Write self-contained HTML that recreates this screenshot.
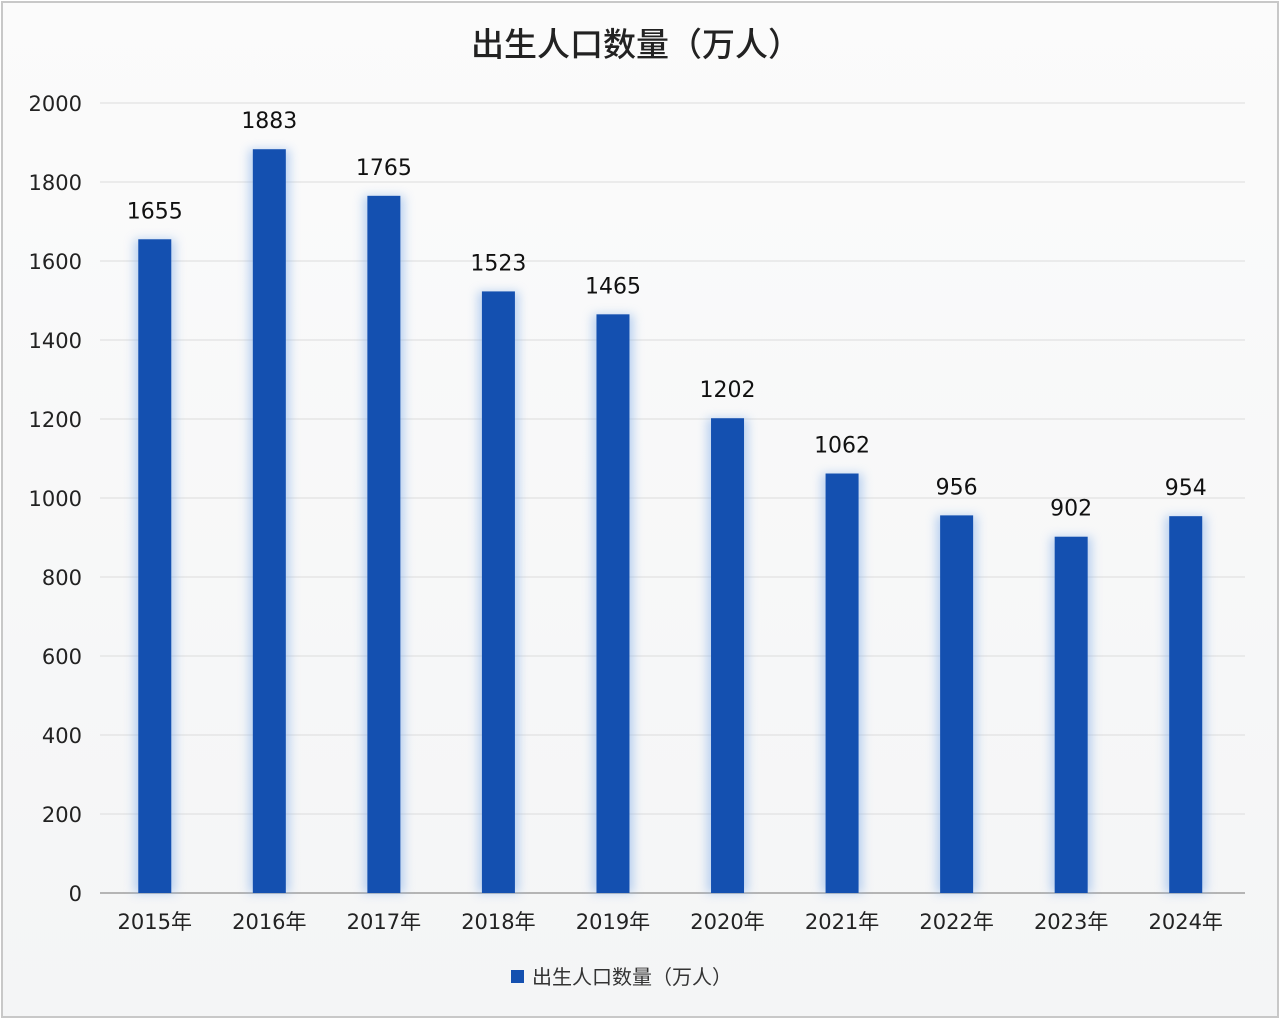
<!DOCTYPE html>
<html><head><meta charset="utf-8"><style>
html,body{margin:0;padding:0;background:#fff;}
body{width:1280px;height:1019px;overflow:hidden;font-family:"DejaVu Sans","Noto Sans CJK SC",sans-serif;}
text{font-family:"DejaVu Sans","Noto Sans CJK SC",sans-serif;}
</style></head><body>
<svg id="chart" width="1280" height="1019" xmlns="http://www.w3.org/2000/svg">
<defs>
<linearGradient id="bg" x1="0" y1="0" x2="0" y2="1"><stop offset="0" stop-color="#fbfbfb"/><stop offset="1" stop-color="#f4f5f6"/></linearGradient>
<filter id="glow" x="-50%" y="-10%" width="200%" height="120%"><feGaussianBlur stdDeviation="5"/></filter>
</defs>
<rect x="2" y="2" width="1276" height="1015" fill="url(#bg)" stroke="#c8c8c8" stroke-width="2"/>
<text x="636" y="56" text-anchor="middle" font-size="33" font-weight="500" fill="#222">出生人口数量（万人）</text>
<g id="grid"></g><g id="bars"></g><g id="labels"></g>
<rect x="511" y="970" width="13" height="13" fill="#1450b0"/>
<text x="532" y="984" font-size="20" fill="#333">出生人口数量（万人）</text>
</svg>
<script>
const categories=["2015年","2016年","2017年","2018年","2019年","2020年","2021年","2022年","2023年","2024年"];
const values=[1655,1883,1765,1523,1465,1202,1062,956,902,954];
const yTicks=[0,200,400,600,800,1000,1200,1400,1600,1800,2000];
const NS="http://www.w3.org/2000/svg";
const left=97.5,right=1243,y0=893,ymax=103,vmax=2000;
const bw=(right-left)/categories.length;
const y=v=>y0-(v/vmax)*(y0-ymax);
const x=i=>left+bw*(i+0.5);
function mk(t,a,p){const e=document.createElementNS(NS,t);for(const k in a)e.setAttribute(k,a[k]);p.appendChild(e);return e;}
const g=document.getElementById('grid'),b=document.getElementById('bars'),l=document.getElementById('labels');
yTicks.forEach(v=>{
 const ln=mk('line',{x1:100,x2:1245,y1:y(v),y2:y(v),stroke:v===0?'#b5b5b5':'#dcdcdc','stroke-width':v===0?2:1},g);
 
 
 const t=mk('text',{x:82,y:y(v)+8,'text-anchor':'end','font-size':21,fill:'#222'},g);
 
 
 t.textContent=v;
});
categories.forEach((c,i)=>{
 const w=33,cx=x(i);
 const gl=mk('rect',{x:cx-w/2-4,y:y(values[i]),width:w+8,height:y0-y(values[i]),fill:'#8fb6ea',opacity:0.6,filter:'url(#glow)'},b);
 
 
 const r=mk('rect',{x:cx-w/2,y:y(values[i]),width:w,height:y0-y(values[i]),fill:'#1450b0'},b);
 
 
 const vt=mk('text',{x:cx,y:y(values[i])-21,'text-anchor':'middle','font-size':22,fill:'#111'},l);
 
 
 vt.textContent=values[i];
 const ct=mk('text',{x:cx,y:929,'text-anchor':'middle','font-size':21,fill:'#222'},l);
 
 
 ct.textContent=c;
});
</script>
</body></html>
